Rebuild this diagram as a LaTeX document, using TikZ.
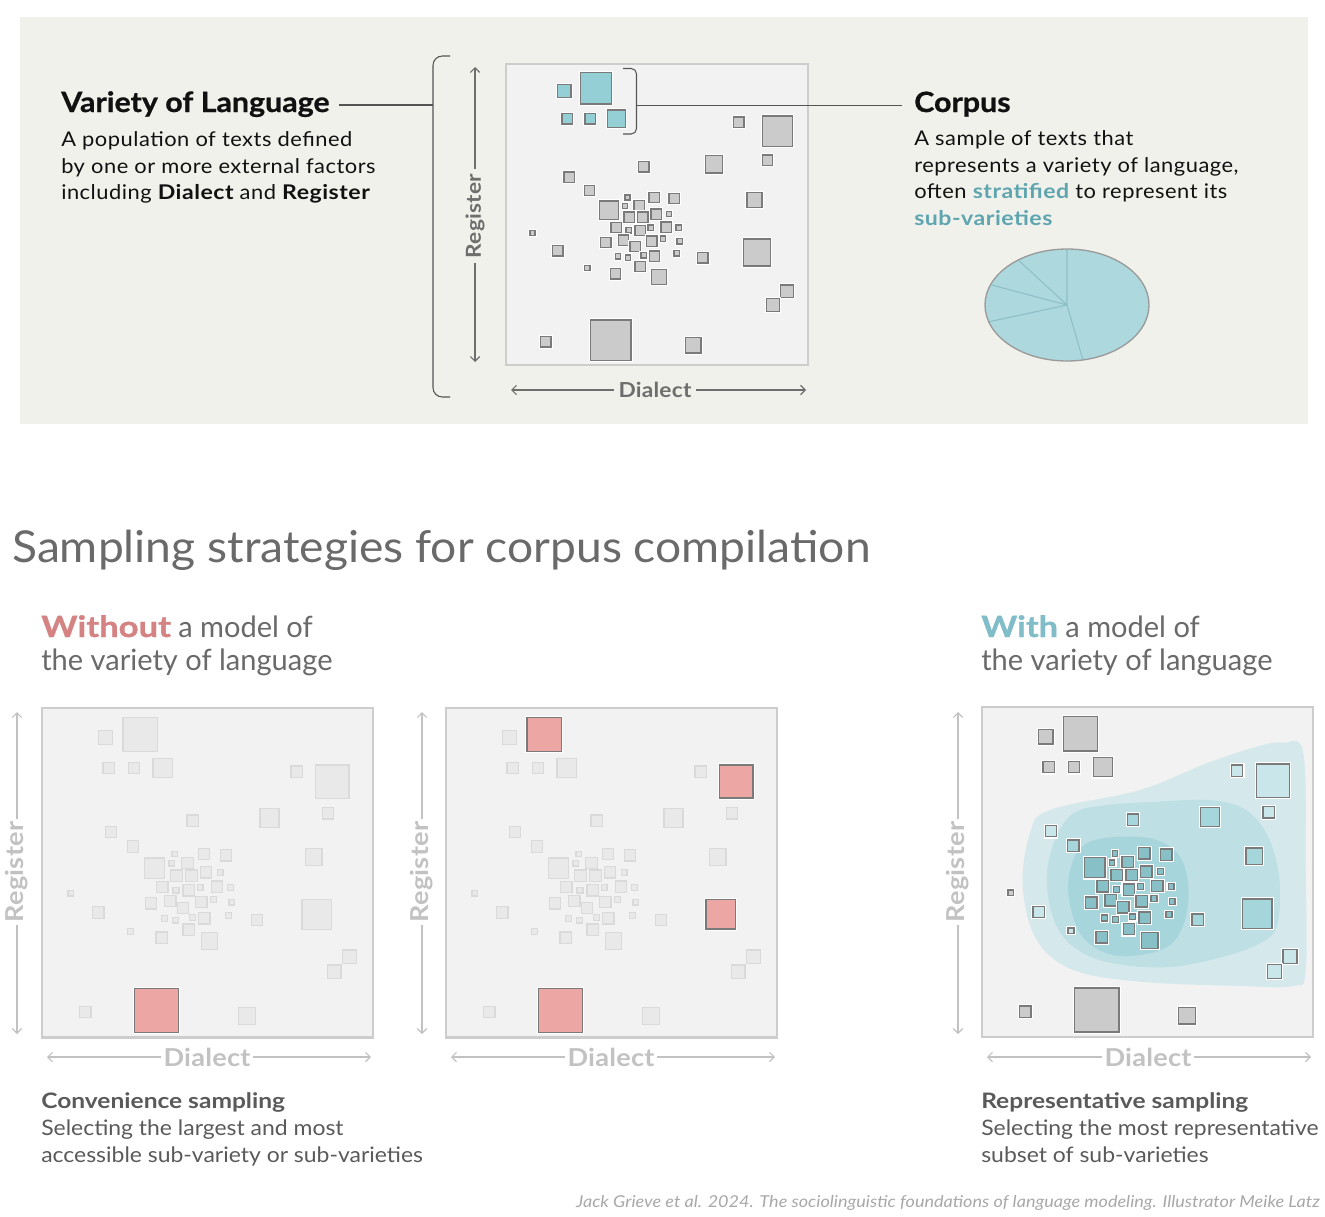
\documentclass[tikz,border=0pt]{standalone}
\usepackage{fontspec}
\setmainfont{Lato}
\usetikzlibrary{arrows.meta}

\definecolor{bgtop}{HTML}{F1F1EC}
\definecolor{boxfill}{HTML}{F2F2F2}
\definecolor{boxline}{HTML}{CDCDCD}
\definecolor{sqgray}{HTML}{CBCBCB}
\definecolor{sqline}{HTML}{7A7A7A}
\definecolor{sqcyan}{HTML}{94CFD6}
\definecolor{faintfill}{HTML}{E9E9E9}
\definecolor{faintline}{HTML}{DADADA}
\definecolor{redfill}{HTML}{ECA7A5}
\definecolor{blobA}{HTML}{D5E9ED}
\definecolor{blobB}{HTML}{BEDFE4}
\definecolor{blobC}{HTML}{A7D5DC}
\definecolor{lvlA}{HTML}{C9E7EB}
\definecolor{lvlB}{HTML}{A5D6DC}
\definecolor{lvlC}{HTML}{87C0C6}
\definecolor{piefill}{HTML}{ADD8DE}
\definecolor{pieline}{HTML}{8EBFC6}
\definecolor{pieedge}{HTML}{9A9A9A}
\definecolor{tealtxt}{HTML}{5EA5AF}
\definecolor{withtxt}{HTML}{80BDC8}
\definecolor{withouttxt}{HTML}{D58283}
\definecolor{axisdark}{HTML}{6E6E6E}
\definecolor{axislight}{HTML}{C2C2C2}
\definecolor{headgray}{HTML}{6A6A6A}
\definecolor{capgray}{HTML}{5A5A5A}
\definecolor{credit}{HTML}{A8A8A8}
\definecolor{inktext}{HTML}{111111}
\definecolor{connline}{HTML}{555555}

\newcommand\myfont[3]{\fontsize{#1}{#1}\selectfont\addfontfeatures{FakeStretch=#2,LetterSpace=#3}}
\newcommand\bwd[1]{{\bfseries\addfontfeatures{FakeStretch=1.14}#1}}
\newcommand\hvy[2]{{\bfseries\addfontfeatures{FakeStretch=#1,FakeBold=1}#2}}
\newcommand\mysq[5]{\draw[sqbase,cls#2/.try,sq#1/.try] (#3,#4) rectangle ++(#5,#5);}
\newcommand\allsq{%
\mysq{1}{t}{173}{88}{40}
\mysq{2}{t}{241}{53}{94}
\mysq{3}{t}{186}{176}{31}
\mysq{4}{t}{255}{176}{31}
\mysq{5}{t}{323}{165}{53}
\mysq{6}{o}{701}{186}{31}
\mysq{7}{o}{\sevx}{183}{91}
\mysq{8}{o}{787}{300}{31}
\mysq{9}{m}{616}{302}{52}
\mysq{10}{m}{416}{320}{31}
\mysq{11}{o}{192}{351}{31}
\mysq{12}{m}{253}{391}{31}
\mysq{13}{m}{741}{413}{45}
\mysq{14}{i}{299}{438}{56}
\mysq{15}{i}{375}{420}{15}
\mysq{16}{i}{367}{445}{15}
\mysq{17}{i}{402}{436}{31}
\mysq{18}{i}{447}{412}{31}
\mysq{19}{i}{507}{415}{31}
\mysq{20}{i}{372}{471}{31}
\mysq{21}{i}{413}{471}{31}
\mysq{22}{i}{453}{462}{31}
\mysq{23}{i}{499}{469}{16}
\mysq{24}{i}{333}{502}{31}
\mysq{25}{i}{378}{518}{16}
\mysq{26}{i}{405}{511}{31}
\mysq{27}{i}{444}{510}{16}
\mysq{28}{i}{483}{501}{31}
\mysq{29}{i}{528}{510}{16}
\mysq{30}{g}{90}{527}{15}
\mysq{31}{i}{302}{547}{31}
\mysq{32}{i}{355}{540}{31}
\mysq{33}{i}{390}{559}{31}
\mysq{34}{i}{440}{543}{31}
\mysq{35}{i}{481}{543}{16}
\mysq{36}{i}{531}{551}{16}
\mysq{37}{m}{731}{552}{81}
\mysq{38}{o}{158}{572}{31}
\mysq{39}{i}{346}{596}{16}
\mysq{40}{i}{376}{600}{16}
\mysq{41}{i}{423}{593}{16}
\mysq{42}{i}{448}{588}{31}
\mysq{43}{i}{522}{587}{16}
\mysq{44}{m}{593}{593}{31}
\mysq{45}{o}{254}{631}{16}
\mysq{46}{i}{331}{641}{31}
\mysq{47}{i}{405}{619}{31}
\mysq{48}{i}{455}{643}{45}
\mysq{49}{o}{842}{690}{38}
\mysq{50}{o}{800}{731}{38}
\mysq{51}{g}{122}{845}{31}
\mysq{52}{g}{272}{795}{121}
\mysq{53}{g}{557}{848}{46}
}

\begin{document}
\begin{tikzpicture}[x=0.75pt,y=-0.75pt,
  halo/.style={preaction={draw=white,line width=2.6pt}},
  graysq/.style={halo,fill=sqgray,draw=sqline,line width=1pt},
  faintsq/.style={fill=faintfill,draw=faintline,line width=0.9pt},
  redsq/.style={halo,fill=redfill,draw=sqline,line width=1pt},
  panelbox/.style={fill=boxfill,draw=boxline,line width=1.6pt},
  axisD/.style={draw=axisdark,line width=0.9pt,-{Straight Barb[length=3.5pt,width=7pt]}},
  axisL/.style={draw=axislight,line width=0.9pt,-{Straight Barb[length=3.5pt,width=7pt]}},
  lblD/.style={font=\myfont{15.5}{1.1}{1}\bfseries,text=axisdark,inner sep=3.5pt},
  lblL/.style={font=\myfont{18.5}{1.1}{1}\bfseries,text=axislight,inner sep=2pt},
  txt/.style={anchor=base west,inner sep=0pt},
  bodyT/.style={txt,font=\myfont{15.2}{1.08}{2.5},text=inktext},
  titleT/.style={txt,font=\myfont{21}{1.085}{0}\bfseries\addfontfeatures{FakeBold=0.8},text=inktext},
  subT/.style={txt,font=\myfont{22}{0.99}{0},text=headgray},
  capT/.style={txt,font=\myfont{16}{1.075}{0},text=capgray},
  capB/.style={txt,font=\myfont{16}{1.15}{0}\bfseries,text=capgray},
  conn/.style={draw=connline,line width=0.8pt}]
\useasboundingbox (0,0) rectangle (1325,1217);
\fill[white] (0,0) rectangle (1325,1217);

% ---------------- top panel ----------------
\fill[bgtop] (20,17) rectangle (1308,424);

\begin{scope}[shift={(500,55)},scale=0.33333]
  \def\sevx{787}
  \tikzset{sqbase/.style={graysq},clst/.style={fill=sqcyan}}
  \draw[panelbox] (18,28) rectangle (925,930);
  \allsq
\end{scope}

% brackets
\draw[conn,rounded corners=7pt] (450,56) -- (433,56) -- (433,397) -- (450,397);
\draw[conn,rounded corners=4pt] (623,68.5) -- (636.5,68.5) -- (636.5,134) -- (623,134);
\coordinate (bigbr) at (433,105);
\coordinate (smbr) at (636.5,105.5);

% left text
\node[titleT] (vol) at (61,112) {Variety of Language};
\node[bodyT] (vol1) at (61,146.7) {A population of texts defined};
\node[bodyT] (vol2) at (61,173) {by one or more external factors};
\node[bodyT] (vol3) at (61,199.3) {including \bwd{Dialect} and \bwd{Register}};
\draw[conn] ([xshift=7pt]bigbr -| vol.east) -- (bigbr);

% right text
\node[titleT] (corp) at (914,112) {Corpus};
\node[bodyT] (corp1) at (914,145.7) {A sample of texts that};
\node[bodyT] (corp2) at (914,172.3) {represents a variety of language,};
\node[bodyT] (corp3) at (914,198.5) {often \textcolor{tealtxt}{\bwd{stratified}} to represent its};
\node[bodyT,text=tealtxt] (corp4) at (914,225) {\bwd{sub-varieties}};
\draw[conn] (smbr) -- ([xshift=-9pt]smbr -| corp.west);

% axes top
\node[lblD,rotate=90] (regT) at (475,216) {Register};
\coordinate (regTa) at (475,67);
\coordinate (regTb) at (475,362);
\draw[axisD] (regT.east) -- (regTa);
\draw[axisD] (regT.west) -- (regTb);
\node[lblD] (dialT) at (655,390) {Dialect};
\coordinate (dialTa) at (511,390);
\coordinate (dialTb) at (806,390);
\draw[axisD] (dialT.west) -- (dialTa);
\draw[axisD] (dialT.east) -- (dialTb);

% pie
\coordinate (pc) at (1067,305);
\fill[piefill] (pc) ellipse [x radius=82,y radius=56];
\draw[pieline,line width=0.8pt] (pc) -- (1067,249) (pc) -- (1019,260.7) (pc) -- (991.7,285) (pc) -- (989.3,321.7) (pc) -- (1082.7,359.3);
\draw[pieedge,line width=1pt] (pc) ellipse [x radius=82,y radius=56];

% ---------------- bottom ----------------
\node[txt,font=\myfont{33}{1.05}{0},text=headgray] (head) at (12,562) {Sampling strategies for corpus compilation};

\node[subT] (wo1) at (41,637) {\textcolor{withouttxt}{\hvy{1.18}{Without}} a model of};
\node[subT] (wo2) at (41,670) {the variety of language};
\node[subT] (wi1) at (981,637) {\textcolor{withtxt}{\hvy{1.17}{With}} a model of};
\node[subT] (wi2) at (981,670) {the variety of language};

% panel 1
\begin{scope}[shift={(35.1,698.1)},scale=0.365]
  \def\sevx{769}
  \tikzset{sqbase/.style={faintsq},sq52/.style={redsq}}
  \draw[panelbox] (18,28) rectangle (925,930);
  \allsq
\end{scope}
% panel 2
\begin{scope}[shift={(439.1,698.1)},scale=0.365]
  \def\sevx{769}
  \tikzset{sqbase/.style={faintsq},sq2/.style={redsq},sq7/.style={redsq},sq37/.style={redsq},sq52/.style={redsq}}
  \draw[panelbox] (18,28) rectangle (925,930);
  \allsq
\end{scope}
% panel 3
\begin{scope}[shift={(975.1,697.1)},scale=0.3657]
  \draw[panelbox] (18,28) rectangle (925,930);
\end{scope}
\fill[blobA] plot[smooth cycle,tension=0.6] coordinates {(1022.7,886.7) (1030,833.3) (1050,810) (1140,790) (1206.7,763.3) (1256.7,746.7) (1283.3,742.7) (1303.3,753.3) (1305.7,866.7) (1305.7,970) (1293.3,986) (1240,986) (1140,981.7) (1073.3,970) (1036.7,940)};
\fill[blobB] plot[smooth cycle,tension=0.6] coordinates {(1046.7,880) (1055,840) (1073.3,813.3) (1106.7,805) (1156.7,801.7) (1206.7,800) (1240,806.7) (1260,823.3) (1273.3,850) (1280,886.7) (1276.7,926.7) (1260,943.3) (1223.3,956.7) (1173.3,966.7) (1123.3,965) (1083.3,953.3) (1056.7,926.7)};
\fill[blobC] plot[smooth cycle,tension=0.6] coordinates {(1068.3,893.3) (1073.3,860) (1090,841.7) (1123.3,836.7) (1156.7,840) (1180,856.7) (1188.3,886.7) (1185,920) (1170,945) (1140,955) (1106.7,953.3) (1080,933.3)};
\begin{scope}[shift={(975.1,697.1)},scale=0.3657]
  \def\sevx{769}
  \tikzset{sqbase/.style={graysq},clso/.style={fill=lvlA},clsm/.style={fill=lvlB},clsi/.style={fill=lvlC}}
  \allsq
\end{scope}

% bottom axes
\foreach \ax/\bx/\dx/\nm in {17/47/207/a, 422/451/611/b, 958/987/1148/c}{
  \node[lblL,rotate=90] (reg\nm) at (\ax,872) {Register};
  \coordinate (rega\nm) at (\ax,712);
  \coordinate (regb\nm) at (\ax,1034);
  \draw[axisL] (reg\nm.east) -- (rega\nm);
  \draw[axisL] (reg\nm.west) -- (regb\nm);
  \node[lblL] (dial\nm) at (\dx,1057) {Dialect};
  \coordinate (diala\nm) at (\bx,1057);
  \coordinate (dialb\nm) at ({\bx+324},1057);
  \draw[axisL] (dial\nm.west) -- (diala\nm);
  \draw[axisL] (dial\nm.east) -- (dialb\nm);
}

% captions
\node[capB] (cs) at (41,1108) {Convenience sampling};
\node[capT] (cs1) at (41,1135) {Selecting the largest and most};
\node[capT] (cs2) at (41,1162) {accessible sub-variety or sub-varieties};
\node[capB] (rs) at (981,1108) {Representative sampling};
\node[capT] (rs1) at (981,1135) {Selecting the most representative};
\node[capT] (rs2) at (981,1162) {subset of sub-varieties};

\node[anchor=base east,inner sep=0pt,font=\myfont{12.3}{1.1}{0}\itshape,text=credit] (cred) at (1320,1207) {Jack Grieve et al. 2024. The sociolinguistic foundations of language modeling. Illustrator Meike Latz};
\end{tikzpicture}
\end{document}
